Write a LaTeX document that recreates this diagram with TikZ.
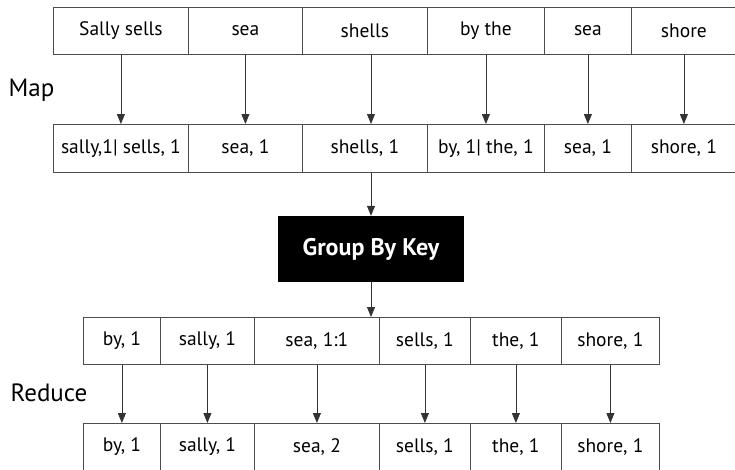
\documentclass[tikz,border=0pt]{standalone}
\usepackage{fontspec}
\setmainfont{PT Sans}
\usetikzlibrary{arrows.meta}
\begin{document}
\begin{tikzpicture}[x=1pt,y=-1pt,
  cell/.style={draw=black!70, line width=0.8pt, rectangle, inner sep=0pt,
    minimum height=47pt, anchor=north west, font=\fontsize{19.5}{22}\selectfont},
  arr/.style={draw=black!80, line width=0.8pt, -{Triangle[width=8pt,length=10pt]}},
  steplabel/.style={font=\fontsize{25}{28}\selectfont, inner sep=0pt},
  groupbox/.style={fill=black, text=white, inner sep=0pt, minimum width=186pt,
    minimum height=66pt, font=\fontsize{24}{27}\selectfont\bfseries}]
\useasboundingbox (0,0) rectangle (735,469);

% input splits
\node[cell, minimum width=135pt] (t1) at (53,7)  {Sally sells};
\node[cell, minimum width=114pt] (t2) at (188,7) {sea};
\node[cell, minimum width=125pt] (t3) at (302,7) {shells};
\node[cell, minimum width=117pt] (t4) at (427,7) {by the};
\node[cell, minimum width=87pt]  (t5) at (544,7) {sea};
\node[cell, minimum width=105pt] (t6) at (631,7) {shore};

% map output
\node[cell, minimum width=135pt, minimum height=48pt] (m1) at (53,124)  {sally,1| sells, 1};
\node[cell, minimum width=114pt, minimum height=48pt] (m2) at (188,124) {sea, 1};
\node[cell, minimum width=125pt, minimum height=48pt] (m3) at (302,124) {shells, 1};
\node[cell, minimum width=117pt, minimum height=48pt] (m4) at (427,124) {by, 1| the, 1};
\node[cell, minimum width=87pt,  minimum height=48pt] (m5) at (544,124) {sea, 1};
\node[cell, minimum width=105pt, minimum height=48pt] (m6) at (631,124) {shore, 1};

\node[steplabel] (map) at (31.5,90) {Map};

% shuffle
\node[groupbox] (grp) at (371,249) {Group By Key};

% grouped pairs
\node[cell, minimum width=77pt]  (g1) at (83,317)  {by, 1};
\node[cell, minimum width=94pt]  (g2) at (160,317) {sally, 1};
\node[cell, minimum width=125pt] (g3) at (254,317) {sea, 1:1};
\node[cell, minimum width=91pt]  (g4) at (379,317) {sells, 1};
\node[cell, minimum width=91pt]  (g5) at (470,317) {the, 1};
\node[cell, minimum width=98pt]  (g6) at (561,317) {shore, 1};

% reduced counts
\node[cell, minimum width=77pt]  (r1) at (83,423)  {by, 1};
\node[cell, minimum width=94pt]  (r2) at (160,423) {sally, 1};
\node[cell, minimum width=125pt] (r3) at (254,423) {sea, 2};
\node[cell, minimum width=91pt]  (r4) at (379,423) {sells, 1};
\node[cell, minimum width=91pt]  (r5) at (470,423) {the, 1};
\node[cell, minimum width=98pt]  (r6) at (561,423) {shore, 1};

\node[steplabel] (reduce) at (49,393) {Reduce};

% map arrows
\draw[arr] (t1.south) -- (m1.north);
\draw[arr] (t2.south) -- (m2.north);
\draw[arr] (t3.south -| grp.north) -- (m3.north -| grp.north);
\draw[arr] (t4.south) -- (m4.north);
\draw[arr] (t5.south) -- (m5.north);
\draw[arr] (t6.south) -- (m6.north);

% into and out of the grouping step
\draw[arr] (m3.south -| grp.north) -- (grp.north);
\draw[arr] (grp.south) -- (grp.south |- g3.north);

% reduce arrows
\draw[arr] (g1.south) -- (r1.north);
\draw[arr] (g2.south) -- (r2.north);
\draw[arr] (g3.south) -- (r3.north);
\draw[arr] (g4.south) -- (r4.north);
\draw[arr] (g5.south) -- (r5.north);
\draw[arr] (g6.south) -- (r6.north);
\end{tikzpicture}
\end{document}
